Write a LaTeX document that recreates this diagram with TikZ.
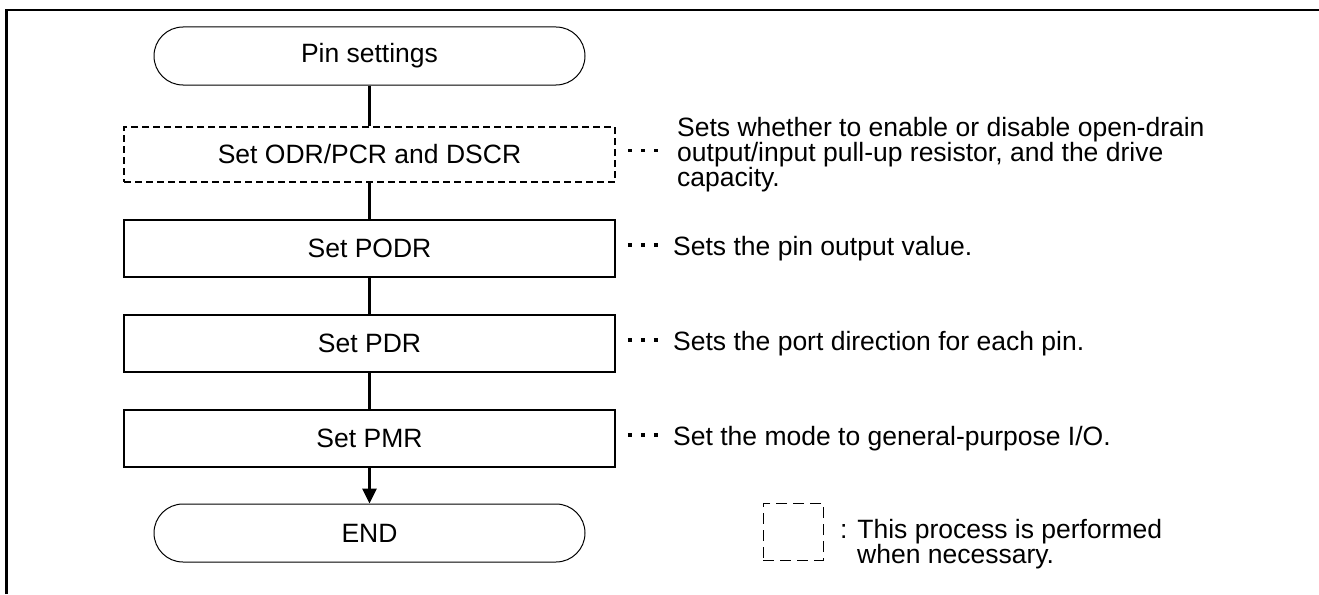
\documentclass[tikz,border=0pt]{standalone}
\usepackage{fontspec}
\setmainfont{Liberation Sans}
\usetikzlibrary{arrows.meta}

\begin{document}
\begin{tikzpicture}[x=1pt,y=-1pt,font=\fontsize{26.5}{25}\selectfont,
    termbox/.style={draw,line width=1pt,rounded corners=29pt,minimum width=431pt,minimum height=58pt},
    procbox/.style={draw,line width=1.8pt,minimum width=491pt,minimum height=57pt},
    optbox/.style={procbox,line width=2.4pt,dash pattern=on 7pt off 4pt,minimum height=55pt},
    notetext/.style={anchor=west,align=left,inner sep=0pt},
    flowline/.style={line width=3.2pt},
    dotlink/.style={line width=3.6pt,dash pattern=on 3.6pt off 9.4pt,shorten <=12pt,shorten >=12pt}]

      \useasboundingbox (0,0) rectangle (1319,594);

      % The frame.
      \draw [line width=2.5pt] (6.5,594) -- (6.5,10) -- (1319,10);

      % The flow.
      \node [termbox] (start) at (369.5,56) {Pin settings};
      \node [optbox] (odr) at (369.5,154.5) {Set ODR/PCR and DSCR};
      \node [procbox] (podr) at (369.5,248.5) {Set PODR};
      \node [procbox] (pdr) at (369.5,343.5) {Set PDR};
      \node [procbox] (pmr) at (369.5,438.5) {Set PMR};
      \node [termbox] (end) at (369.5,533) {END};

      \draw [flowline] (start) -- (odr);
      \draw [flowline] (odr) -- (podr);
      \draw [flowline] (podr) -- (pdr);
      \draw [flowline] (pdr) -- (pmr);
      \draw [flowline,-{Triangle[length=15pt,width=14pt]}] (pmr) -- (end);

      % The notes.
      \node [notetext] (odrnote) at (677,154.5)
      {Sets whether to enable or disable open-drain\\output/input pull-up resistor, and the drive\\capacity.};
      \node [notetext] (podrnote) at (673,248.5) {Sets the pin output value.};
      \node [notetext] (pdrnote) at (673,343.5) {Sets the port direction for each pin.};
      \node [notetext] (pmrnote) at (673,438.5) {Set the mode to general-purpose I/O.};

      \draw [dotlink] ([yshift=4pt]odr.east) -- ([yshift=4pt]odrnote.west);
      \draw [dotlink] ([yshift=3.5pt]podr.east) -- ([yshift=3.5pt]podrnote.west);
      \draw [dotlink] ([yshift=3.5pt]pdr.east) -- ([yshift=3.5pt]pdrnote.west);
      \draw [dotlink] ([yshift=3.5pt]pmr.east) -- ([yshift=3.5pt]pmrnote.west);

      % The legend.
      \node [draw,line width=1pt,dash pattern=on 11pt off 6pt,minimum width=60pt,minimum height=57pt]
      (legend) at (793,531.5) {};
      \node [notetext] (legendnote) at (840,544)
      {: This process is performed\\\hspace*{17pt}when necessary.};

    \end{tikzpicture}
\end{document}
